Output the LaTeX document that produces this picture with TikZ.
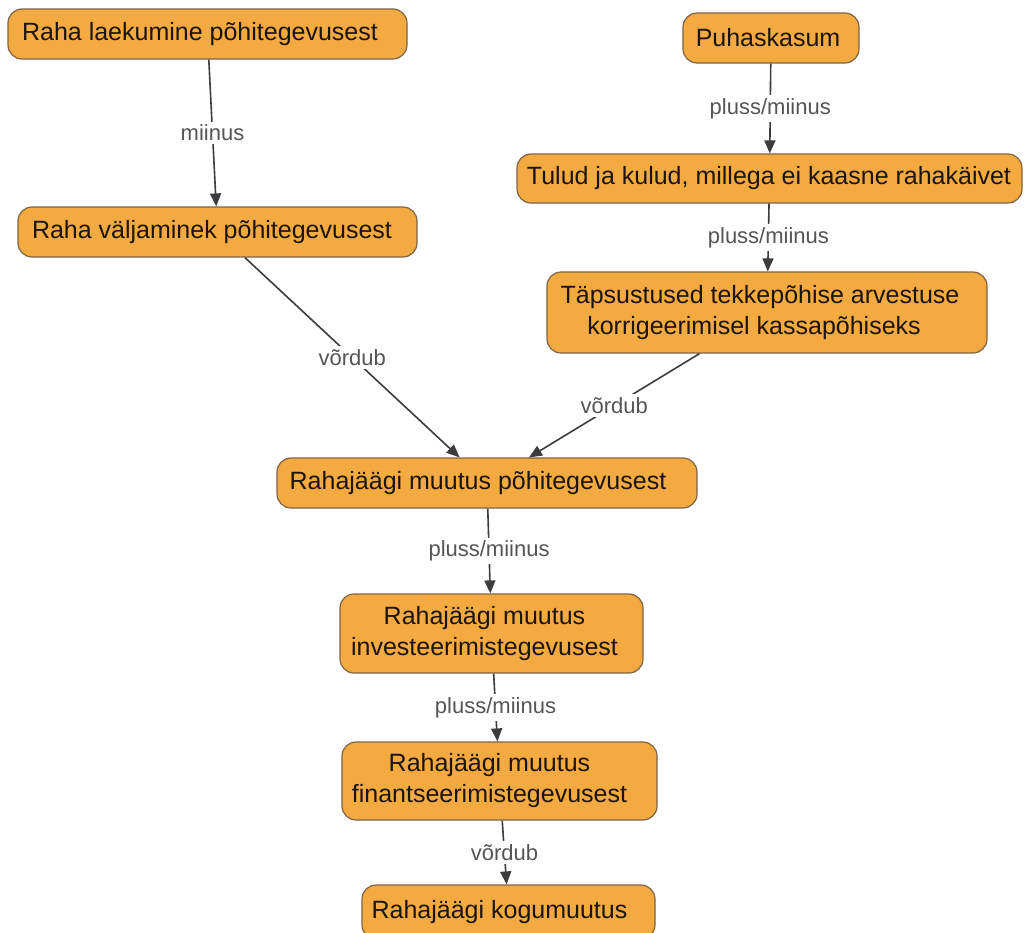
\documentclass[tikz,border=0pt]{standalone}
\usepackage{fontspec}
\setmainfont{Liberation Sans}
\usetikzlibrary{arrows.meta}
\definecolor{boxfill}{RGB}{243,170,64}
\definecolor{boxline}{RGB}{125,100,70}
\definecolor{boxtext}{RGB}{30,20,15}
\definecolor{edgecol}{RGB}{60,60,60}
\definecolor{labcol}{RGB}{85,85,85}
\newcommand{\lsh}[1]{\hspace*{-#1pt}}
\tikzset{
  flowbox/.style={draw=boxline, fill=boxfill, line width=1.2pt, rounded corners=14pt,
    text=boxtext, align=center, inner sep=0pt,
    font=\fontsize{25}{31}\selectfont},
  flowedge/.style={draw=edgecol, line width=1.6pt, -{Triangle[length=13pt,width=11pt]}},
  edgelabel/.style={midway, fill=white, text=labcol, inner sep=3pt,
    font=\fontsize{22}{26}\selectfont}
}
\begin{document}
\begin{tikzpicture}[x=1pt, y=-1pt]
\useasboundingbox (0,0) rectangle (1035,932);
\clip (0,0) rectangle (1035,932);
\node[flowbox, minimum width=399pt, minimum height=50pt] (n1) at (207.5,34) {\lsh{15}Raha laekumine põhitegevusest};
\node[flowbox, minimum width=399pt, minimum height=50pt] (n2) at (217.5,232) {\lsh{11}Raha väljaminek põhitegevusest};
\node[flowbox, minimum width=176pt, minimum height=50pt] (n3) at (771,38) {\lsh{6}Puhaskasum};
\node[flowbox, minimum width=505pt, minimum height=49pt] (n4) at (769.5,178.5) {\lsh{1}Tulud ja kulud, millega ei kaasne rahakäivet};
\node[flowbox, minimum width=440pt, minimum height=81pt] (n5) at (767,312.5) {\lsh{14}Täpsustused tekkepõhise arvestuse\\\lsh{26}korrigeerimisel kassapõhiseks};
\node[flowbox, minimum width=420pt, minimum height=50pt] (n6) at (487,483) {\lsh{18}Rahajäägi muutus põhitegevusest};
\node[flowbox, minimum width=303pt, minimum height=79pt] (n7) at (491.5,633.5) {\lsh{14}Rahajäägi muutus\\\lsh{14}investeerimistegevusest};
\node[flowbox, minimum width=315pt, minimum height=78pt] (n8) at (499.5,781) {\lsh{20}Rahajäägi muutus\\\lsh{20}finantseerimistegevusest};
\node[flowbox, minimum width=293pt, minimum height=54pt] (n9) at (508.5,912) {\lsh{18}Rahajäägi kogumuutus};

\draw[flowedge] (n1) -- node[edgelabel] {miinus} (n2);
\draw[flowedge] (n3) -- node[edgelabel] {pluss/miinus} (n4);
\draw[flowedge] (n4) -- node[edgelabel] {pluss/miinus} (n5);
\draw[flowedge] (n2) -- node[edgelabel] {võrdub} (n6);
\draw[flowedge] (n5) -- node[edgelabel] {võrdub} (n6);
\draw[flowedge] (n6) -- node[edgelabel] {pluss/miinus} (n7);
\draw[flowedge] (n7) -- node[edgelabel] {pluss/miinus} (n8);
\draw[flowedge] (n8) -- node[edgelabel] {võrdub} (n9);
\end{tikzpicture}
\end{document}
